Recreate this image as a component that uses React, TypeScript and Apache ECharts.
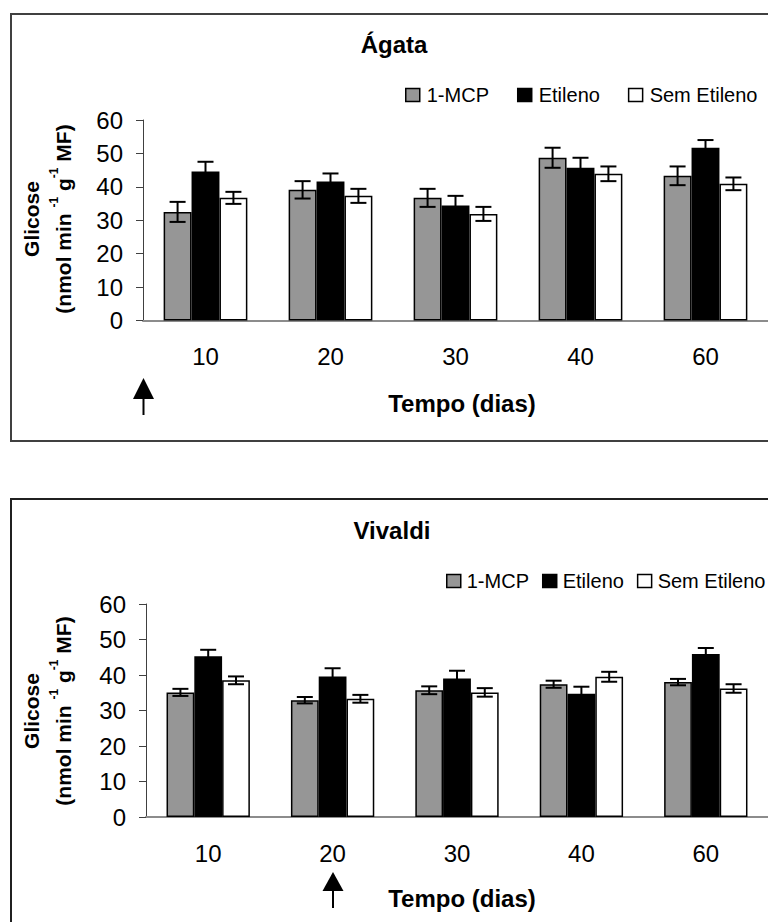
import React, { useEffect, useRef } from "react";
import * as echarts from "echarts";

const FONT = "'Liberation Sans', Arial, Helvetica, sans-serif";

const categories = ["10", "20", "30", "40", "60"];
const seriesNames = ["1-MCP", "Etileno", "Sem Etileno"];

// Ágata
const agata1MCP = [32.5, 39.1, 36.7, 48.7, 43.3];
const agata1MCPErr = [3.0, 2.6, 2.7, 3.0, 2.8];
const agataEtileno = [44.6, 41.6, 34.4, 45.7, 51.7];
const agataEtilenoErr = [2.9, 2.4, 2.9, 3.0, 2.3];
const agataSem = [36.7, 37.3, 31.9, 43.9, 40.9];
const agataSemErr = [1.8, 2.1, 2.1, 2.2, 1.9];

// Vivaldi
const vivaldi1MCP = [35.1, 32.9, 35.7, 37.4, 38.0];
const vivaldi1MCPErr = [1.0, 0.9, 1.1, 1.0, 0.9];
const vivaldiEtileno = [45.3, 39.6, 39.0, 34.7, 45.9];
const vivaldiEtilenoErr = [1.8, 2.3, 2.2, 2.0, 1.7];
const vivaldiSem = [38.5, 33.3, 35.1, 39.5, 36.2];
const vivaldiSemErr = [1.1, 1.1, 1.2, 1.4, 1.2];

const yTicks = { min: 0, max: 60, interval: 10 };

const barColors = ["#969696", "#000000", "#ffffff"];
const GAP = 0.33;

function barSeries(grid: number, values: number[][]) {
  return values.map((vals, k) => ({
    type: "bar",
    name: seriesNames[k],
    xAxisIndex: grid,
    yAxisIndex: grid,
    data: vals,
    barCategoryGap: "33%",
    barGap: "0%",
    itemStyle: { color: barColors[k], borderColor: "#000", borderWidth: 1.5 },
    z: 2,
  }));
}

function errSeries(grid: number, values: number[][], errs: number[][]) {
  const data: number[][] = [];
  values.forEach((vals, k) => {
    vals.forEach((v, i) => data.push([i, v, errs[k][i], k]));
  });
  return {
    type: "custom",
    xAxisIndex: grid,
    yAxisIndex: grid,
    z: 10,
    silent: true,
    encode: { x: 0, y: 1 },
    data,
    renderItem: (params: any, api: any) => {
      const cat = api.value(0);
      const val = api.value(1);
      const e = api.value(2);
      const k = api.value(3);
      const band = api.size([1, 0])[0];
      const bw = (band * (1 - GAP)) / 3;
      const c = api.coord([cat, val]);
      const x = c[0] + (k - 1) * bw;
      const yTop = api.coord([cat, val + e])[1];
      const yBot = api.coord([cat, val - e])[1];
      const cap = 8;
      const st = { stroke: "#000", lineWidth: 2 };
      return {
        type: "group",
        children: [
          { type: "line", shape: { x1: x, y1: yTop, x2: x, y2: yBot }, style: st },
          { type: "line", shape: { x1: x - cap, y1: yTop, x2: x + cap, y2: yTop }, style: st },
          { type: "line", shape: { x1: x - cap, y1: yBot, x2: x + cap, y2: yBot }, style: st },
        ],
      };
    },
  };
}

function xAxisDef(grid: number) {
  return {
    type: "category",
    gridIndex: grid,
    data: categories,
    axisLine: { lineStyle: { color: "#8c8c8c", width: 2 } },
    axisTick: { length: 8, lineStyle: { color: "#000", width: 1 } },
    axisLabel: { fontSize: 24, color: "#000", margin: 24, fontFamily: FONT },
  };
}

function yAxisDef(grid: number) {
  return {
    type: "value",
    gridIndex: grid,
    min: yTicks.min,
    max: yTicks.max,
    interval: yTicks.interval,
    axisLine: { show: true, lineStyle: { color: "#404040", width: 1 } },
    axisTick: { show: true, length: 7, lineStyle: { color: "#404040", width: 1 } },
    splitLine: { show: false },
    axisLabel: { fontSize: 24, color: "#000", margin: 20, fontFamily: FONT },
  };
}

function legendDef(left: number, top: number, gap: number, textPad: number) {
  return {
    data: seriesNames,
    left,
    top,
    width: 420,
    padding: 0,
    orient: "horizontal",
    icon: "rect",
    itemWidth: 14,
    itemHeight: 13,
    itemGap: gap,
    itemStyle: { borderColor: "#000", borderWidth: 1.5 },
    textStyle: { fontSize: 20, color: "#000", fontFamily: FONT, padding: [0, 0, 0, textPad] },
    selectedMode: false,
  };
}

function yName(cx: number, cy: number) {
  return [
    {
      type: "text",
      x: cx - 30,
      y: cy,
      rotation: Math.PI / 2,
      style: {
        text: "Glicose",
        font: `bold 21px ${FONT}`,
        fill: "#000",
        align: "center",
        verticalAlign: "middle",
      },
    },
    {
      type: "text",
      x: cx,
      y: cy,
      rotation: Math.PI / 2,
      style: {
        text: "{b|(nmol min }{s|-1}{b| g}{s|-1}{b| MF)}",
        fill: "#000",
        align: "center",
        verticalAlign: "middle",
        rich: {
          b: { font: `bold 21px ${FONT}`, fill: "#000", lineHeight: 26, verticalAlign: "bottom" },
          s: { font: `bold 12px ${FONT}`, fill: "#000", lineHeight: 26, verticalAlign: "top" },
        },
      },
    },
  ];
}

function arrow(x: number, yTop: number, yHead: number, yBot: number) {
  return [
    {
      type: "polygon",
      shape: { points: [[x - 10.5, yHead], [x + 10.5, yHead], [x, yTop]] },
      style: { fill: "#000" },
    },
    {
      type: "line",
      shape: { x1: x, y1: yHead, x2: x, y2: yBot },
      style: { stroke: "#000", lineWidth: 2 },
    },
  ];
}

function textAt(text: string, x: number, y: number, size: number) {
  return {
    type: "text",
    x,
    y,
    style: {
      text,
      font: `bold ${size}px ${FONT}`,
      fill: "#000",
      align: "center",
      verticalAlign: "middle",
    },
  };
}

export default function App() {
  const ref = useRef<HTMLDivElement>(null);
  useEffect(() => {
    if (!ref.current) return;
    const chart = echarts.init(ref.current, undefined, { renderer: "svg" });
    const aVals = [agata1MCP, agataEtileno, agataSem];
    const aErrs = [agata1MCPErr, agataEtilenoErr, agataSemErr];
    const vVals = [vivaldi1MCP, vivaldiEtileno, vivaldiSem];
    const vErrs = [vivaldi1MCPErr, vivaldiEtilenoErr, vivaldiSemErr];
    const option: any = {
      animation: false,
      backgroundColor: "#fff",
      textStyle: { fontFamily: FONT },
      grid: [
        { left: 143, top: 120, width: 630, height: 200.5 },
        { left: 146, top: 604, width: 632, height: 213 },
      ],
      xAxis: [xAxisDef(0), xAxisDef(1)],
      yAxis: [yAxisDef(0), yAxisDef(1)],
      legend: [legendDef(405, 85, 28, 2), legendDef(446, 571, 13, 1)],
      series: [
        ...barSeries(0, aVals),
        ...barSeries(1, vVals),
        errSeries(0, aVals, aErrs),
        errSeries(1, vVals, vErrs),
      ],
      graphic: [
        {
          type: "rect",
          shape: { x: 11, y: 14, width: 800, height: 427 },
          style: { fill: "none", stroke: "#404040", lineWidth: 2 },
          z: -1,
        },
        {
          type: "rect",
          shape: { x: 11, y: 499, width: 800, height: 500 },
          style: { fill: "none", stroke: "#202020", lineWidth: 2 },
          z: -1,
        },
        textAt("Ágata", 394, 44, 24),
        textAt("Vivaldi", 392, 530, 24),
        textAt("Tempo (dias)", 462, 403, 24),
        textAt("Tempo (dias)", 462, 898, 24),
        ...yName(61, 219),
        ...yName(61, 711),
        ...arrow(143.5, 378, 399, 415),
        ...arrow(333, 872, 891, 908),
      ],
    };
    chart.setOption(option);
    return () => chart.dispose();
  }, []);
  return (
    <div
      ref={ref}
      style={{ position: "absolute", left: 0, top: 0, width: 768, height: 922, background: "#fff" }}
    />
  );
}
